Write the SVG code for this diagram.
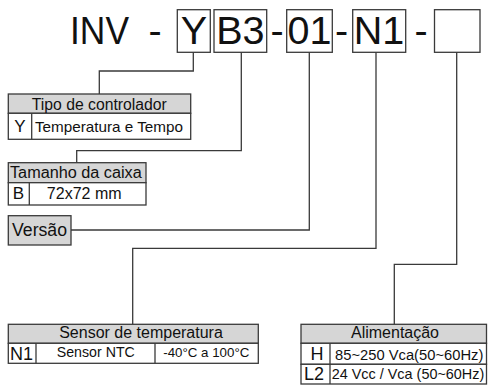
<svg xmlns="http://www.w3.org/2000/svg" width="488" height="385" viewBox="0 0 488 385">
<style>
.t{font-family:"Liberation Sans",Arial,sans-serif;fill:#111}
.big{font-size:39.5px}
.hd{font-size:16px}
.bd{font-size:15px}
.bx{fill:#fff;stroke:#3a3a3a;stroke-width:1.3}
.hf{fill:#d6d6d6;stroke:#3a3a3a;stroke-width:1.3}
.cn{fill:none;stroke:#3a3a3a;stroke-width:1.3}
</style>
<rect width="488" height="385" fill="#fff"/>
<g id="title">
<text class="t big" x="70" y="44.3" textLength="59" lengthAdjust="spacingAndGlyphs">INV</text>
<text class="t big" x="155" y="44.3" text-anchor="middle">-</text>
<rect class="bx" x="177.3" y="9.7" width="33" height="42.6"/>
<text class="t big" x="194" y="44.3" text-anchor="middle">Y</text>
<rect class="bx" x="214" y="9.7" width="52.7" height="42.6"/>
<text class="t big" x="240.3" y="44.3" text-anchor="middle">B3</text>
<text class="t big" x="277" y="44.3" text-anchor="middle">-</text>
<rect class="bx" x="286.7" y="9.7" width="45.6" height="42.6"/>
<text class="t big" x="309.5" y="44.3" text-anchor="middle">01</text>
<text class="t big" x="341.7" y="44.3" text-anchor="middle">-</text>
<rect class="bx" x="352.7" y="9.7" width="53" height="42.6"/>
<text class="t big" x="379" y="44.3" text-anchor="middle">N1</text>
<text class="t big" x="421" y="44.3" text-anchor="middle">-</text>
<rect class="bx" x="434.5" y="9.7" width="45.5" height="42.6"/>
</g>
<g id="connectors">
<polyline class="cn" points="193.3,52.3 193.3,71 99.3,71 99.3,94"/>
<polyline class="cn" points="241.3,52.3 241.3,150.7 76.7,150.7 76.7,162.7"/>
<polyline class="cn" points="309.3,52.3 309.3,230 71,230"/>
<polyline class="cn" points="376,52.3 376,248.3 132.7,248.3 132.7,324.3"/>
<polyline class="cn" points="456.7,52.3 456.7,264.3 394.3,264.3 394.3,324.3"/>
</g>
<g id="tipo">
<rect class="hf" x="8.3" y="94" width="182.4" height="19.3"/>
<rect class="bx" x="8.3" y="113.3" width="182.4" height="26"/>
<line class="cn" x1="31.7" y1="113.3" x2="31.7" y2="139.3"/>
<text class="t hd" x="99.3" y="110" text-anchor="middle" textLength="135" lengthAdjust="spacingAndGlyphs">Tipo de controlador</text>
<text class="t" x="20" y="131.7" text-anchor="middle" font-size="17">Y</text>
<text class="t bd" x="35" y="131.7" textLength="148" lengthAdjust="spacingAndGlyphs">Temperatura e Tempo</text>
</g>
<g id="tamanho">
<rect class="hf" x="8.3" y="162.7" width="137.7" height="20"/>
<rect class="bx" x="8.3" y="182.7" width="137.7" height="22.3"/>
<line class="cn" x1="29.3" y1="182.7" x2="29.3" y2="205"/>
<text class="t hd" x="10" y="177.7" textLength="131.7" lengthAdjust="spacingAndGlyphs">Tamanho da caixa</text>
<text class="t" x="18.5" y="199.3" text-anchor="middle" font-size="17">B</text>
<text class="t hd" x="84.2" y="199.3" text-anchor="middle">72x72 mm</text>
</g>
<g id="versao">
<rect class="hf" x="8.3" y="215.7" width="62.7" height="29.3"/>
<text class="t" x="12" y="235.7" font-size="17.5" textLength="55" lengthAdjust="spacingAndGlyphs">Versão</text>
</g>
<g id="sensor">
<rect class="hf" x="8.3" y="324.3" width="250" height="19"/>
<rect class="bx" x="8.3" y="343.3" width="250" height="20"/>
<line class="cn" x1="36" y1="343.3" x2="36" y2="363.3"/>
<line class="cn" x1="155" y1="343.3" x2="155" y2="363.3"/>
<text class="t hd" x="141" y="338.3" text-anchor="middle">Sensor de temperatura</text>
<text class="t" x="21.5" y="360" text-anchor="middle" font-size="18">N1</text>
<text class="t" x="95.8" y="357" text-anchor="middle" font-size="14.2">Sensor NTC</text>
<text class="t" x="206.3" y="357" text-anchor="middle" font-size="13.3">-40°C a 100°C</text>
</g>
<g id="alimentacao">
<rect class="hf" x="301" y="324.3" width="185.5" height="19"/>
<rect class="bx" x="301" y="343.3" width="185.5" height="21"/>
<rect class="bx" x="301" y="364.3" width="185.5" height="19.7"/>
<line class="cn" x1="330" y1="343.3" x2="330" y2="384"/>
<text class="t hd" x="395" y="338.3" text-anchor="middle">Alimentação</text>
<text class="t" x="317" y="360" text-anchor="middle" font-size="18">H</text>
<text class="t" x="335" y="359.5" font-size="14.7" textLength="148.3" lengthAdjust="spacingAndGlyphs">85~250 Vca(50~60Hz)</text>
<text class="t" x="314" y="380" text-anchor="middle" font-size="18">L2</text>
<text class="t" x="331.7" y="378.8" font-size="14.4" textLength="152.6" lengthAdjust="spacingAndGlyphs">24 Vcc / Vca (50~60Hz)</text>
</g>
</svg>
